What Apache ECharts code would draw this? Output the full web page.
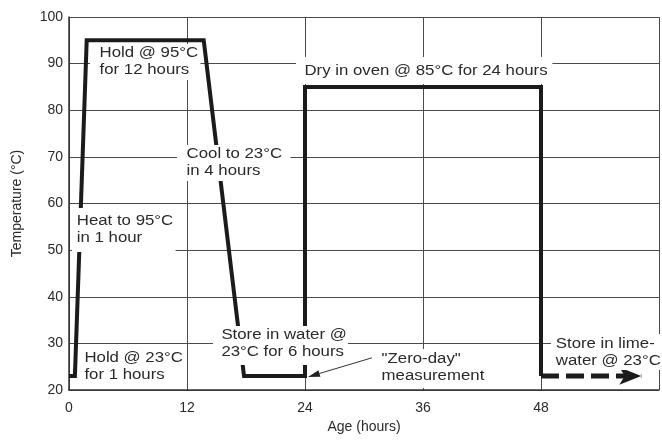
<!DOCTYPE html>
<html>
<head>
<meta charset="utf-8">
<script src="https://cdn.jsdelivr.net/npm/echarts/dist/echarts.min.js"></script>
<style>
html,body{margin:0;padding:0;background:#fff;}
#chart{width:662px;height:444px;}
</style>
</head>
<body>
<div id="chart"></div>
<script>
// ---- data ----
const xTickLabels = [0, 12, 24, 36, 48];
const yTickLabels = [20, 30, 40, 50, 60, 70, 80, 90, 100];
const ageMain  = [0, 0.6, 1.8, 13.7, 17.8, 24, 24, 48, 48];
const tempMain = [23, 23, 95, 95, 23, 23, 85, 85, 23];
const ageLime  = [48, 58.2];
const tempLime = [23, 23];
const zeroDayFrom = [30.8, 26.9];
const zeroDayTo   = [24.3, 22.8];

const annotations = [
  "Hold @ 95°C\nfor 12 hours",
  "Heat to 95°C\nin 1 hour",
  "Cool to 23°C\nin 4 hours",
  "Store in water @\n23°C for 6 hours",
  "Dry in oven @ 85°C for 24 hours",
  "Store in lime-\nwater @ 23°C",
  "\"Zero-day\"\nmeasurement",
  "Hold @ 23°C\nfor 1 hours"
];
// layout for annotations (pixel left/top and padding [t,r,b,l])
const annLayout = [
  {x: 90,  y: 44, pad: [1, 2, 1, 8]},
  {x: 72,  y: 208, pad: [5, 2, 5, 4]},
  {x: 177, y: 145, pad: [1, 7, 1, 8]},
  {x: 213, y: 326, pad: [1, 1, 4, 7]},
  {x: 296, y: 57, pad: [6, 4, 4, 7]},
  {x: 551, y: 334, pad: [2, 4, 0, 4]},
  {x: 378, y: 349, pad: [2, 4, 3, 3]},
  {x: 82,  y: 349, pad: [1, 2, 1, 2]}
];

const FONT = '"Liberation Sans", Arial, sans-serif';
const INK = '#1b1b1b';
const TXT = '#2a2a2a';

const chart = echarts.init(document.getElementById('chart'), null, {renderer: 'canvas'});

chart.setOption({
  animation: false,
  backgroundColor: '#ffffff',
  grid: {left: 69, top: 17, width: 600, height: 373, containLabel: false},
  xAxis: {
    type: 'value', min: 0, max: 60, interval: 12,
    name: 'Age (hours)', nameLocation: 'middle', nameGap: 30,
    nameTextStyle: {fontFamily: FONT, fontSize: 14, color: TXT},
    axisLine: {show: true, onZero: false, lineStyle: {color: '#333', width: 1.5}},
    axisTick: {show: false},
    axisLabel: {fontFamily: FONT, fontSize: 14, color: TXT, margin: 11,
      formatter: v => xTickLabels.includes(v) ? String(v) : ''},
    splitLine: {show: true, lineStyle: {color: '#4a4a4a', width: 1}}
  },
  yAxis: {
    type: 'value', min: 20, max: 100, interval: 10,
    name: 'Temperature (°C)', nameLocation: 'middle', nameGap: 45, nameRotate: 90,
    nameTextStyle: {fontFamily: FONT, fontSize: 14, color: TXT},
    axisLine: {show: true, lineStyle: {color: '#333', width: 1.5}},
    axisTick: {show: false},
    axisLabel: {fontFamily: FONT, fontSize: 14, color: TXT, margin: 6,
      formatter: v => yTickLabels.includes(v) ? String(v) : ''},
    splitLine: {show: true, lineStyle: {color: '#4a4a4a', width: 1}}
  },
  series: [
    {
      type: 'line', z: 3, symbol: 'none',
      data: ageMain.map((a, i) => [a, tempMain[i]]),
      lineStyle: {color: INK, width: 4, join: 'miter', cap: 'butt'}
    },
    {
      type: 'line', z: 3,
      data: ageLime.map((a, i) => [a, tempLime[i]]),
      symbol: (v, p) => p.dataIndex === ageLime.length - 1 ? 'arrow' : 'none',
      symbolSize: [13, 22], symbolRotate: -90,
      itemStyle: {color: INK},
      lineStyle: {color: INK, width: 5, type: [18, 7], cap: 'butt'}
    }
  ]
});

const graphics = annotations.map((t, i) => {
  const L = annLayout[i];
  return {
    type: 'text', x: L.x, y: L.y, scaleX: 1.2, scaleY: 1, z: 100,
    style: {
      text: t, fontFamily: FONT, fontSize: 14, lineHeight: 17, fill: TXT,
      align: 'left', verticalAlign: 'top',
      backgroundColor: '#ffffff', padding: L.pad
    }
  };
});

const p1 = chart.convertToPixel({gridIndex: 0}, zeroDayFrom);
const p2 = chart.convertToPixel({gridIndex: 0}, zeroDayTo);
const ang = Math.atan2(p2[1] - p1[1], p2[0] - p1[0]);
const headLen = 12, headW = 3.5;
const bx = p2[0] - headLen * Math.cos(ang), by = p2[1] - headLen * Math.sin(ang);
graphics.push({
  type: 'line', z: 110,
  shape: {x1: p1[0], y1: p1[1], x2: bx, y2: by},
  style: {stroke: '#333', lineWidth: 1}
});
graphics.push({
  type: 'polygon', z: 110,
  shape: {points: [
    [p2[0], p2[1]],
    [bx + headW * Math.sin(ang), by - headW * Math.cos(ang)],
    [bx - headW * Math.sin(ang), by + headW * Math.cos(ang)]
  ]},
  style: {fill: '#222'}
});

chart.setOption({graphic: graphics});
</script>
</body>
</html>
